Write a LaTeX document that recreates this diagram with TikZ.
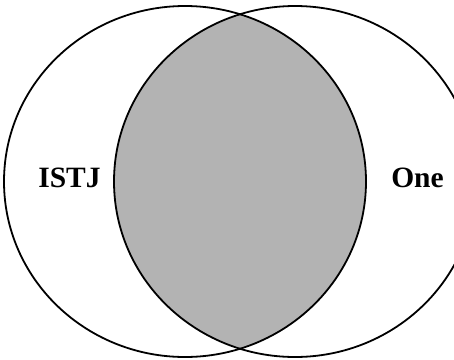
\documentclass[tikz,border=0pt]{standalone}
\usepackage{fontspec}
\setmainfont{Liberation Serif}
\definecolor{lensgray}{HTML}{B3B3B3}
\tikzset{
  setoutline/.style={draw=black, line width=1.8pt},
  setlabel/.style={font=\fontsize{29.5}{35}\selectfont\bfseries, anchor=base, inner sep=0pt}
}
\begin{document}
\begin{tikzpicture}[x=1pt,y=-1pt]
  \useasboundingbox (0,0) rectangle (454,359);
  \clip (0,0) rectangle (454,359);
  \begin{scope}
    \clip (185,181.5) ellipse [x radius=181, y radius=175.5];
    \fill[lensgray] (295,181.5) ellipse [x radius=181, y radius=175.5];
  \end{scope}
  \draw[setoutline] (185,181.5) ellipse [x radius=181, y radius=175.5];
  \draw[setoutline] (295,181.5) ellipse [x radius=181, y radius=175.5];
  \node[setlabel] (istj) at (69.5,187.5) {ISTJ};
  \node[setlabel] (one) at (417.5,187.5) {One};
\end{tikzpicture}
\end{document}
